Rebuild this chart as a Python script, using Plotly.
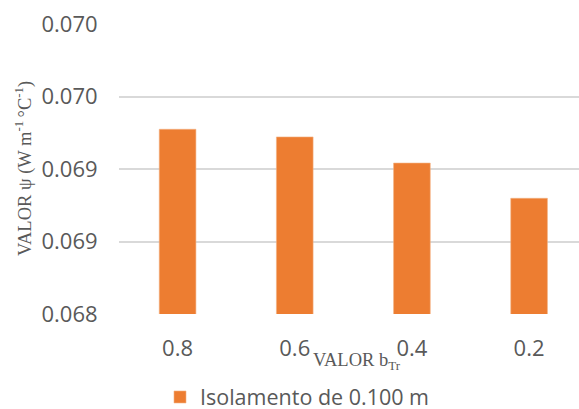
import plotly.graph_objects as go

# b_Tr categories and psi values (W m-1 °C-1) for 0.100 m insulation
categories = ["0.8", "0.6", "0.4", "0.2"]
psi_values = [0.069274, 0.069221, 0.069041, 0.068798]
series_name = "Isolamento de 0.100 m"

# y-axis ticks, labelled to three decimals (half-up rounding)
tick_values = [0.068, 0.0685, 0.069, 0.0695, 0.070]
tick_labels = ["0.068", "0.069", "0.069", "0.070", "0.070"]

ORANGE = "#ED7D31"
GRID = "#d9d9d9"
TEXT = "#595959"
SANS = "Open Sans, Noto Sans, sans-serif"
SERIF = "Liberation Serif, Times New Roman, serif"

# plot-area geometry in pixels
PL, PR, PT, PB = 119, 579, 24, 314
PW, PH = PR - PL, PB - PT

fig = go.Figure(
    go.Bar(
        x=categories,
        y=psi_values,
        name=series_name,
        marker=dict(color=ORANGE, line=dict(color="#f4b183", width=0.6)),
        showlegend=True,
    )
)

fig.update_layout(
    width=579,
    height=409,
    margin=dict(l=PL, r=579 - PR, t=PT, b=409 - PB, autoexpand=False),
    paper_bgcolor="white",
    plot_bgcolor="white",
    bargap=0.687,
    font=dict(family=SANS, size=22, color=TEXT),
    showlegend=True,
    legend=dict(
        orientation="h",
        x=(160 - PL) / PW,
        xanchor="left",
        y=-(397 - PB) / PH,
        yanchor="middle",
        font=dict(family=SANS, size=21.5, color=TEXT),
        itemwidth=30,
    ),
    xaxis=dict(
        type="category",
        range=[-0.5, 3.426],
        showgrid=False,
        showline=False,
        ticks="outside",
        ticklen=15,
        tickcolor="rgba(0,0,0,0)",
        tickfont=dict(family=SANS, size=22, color=TEXT),
    ),
    yaxis=dict(
        range=[0.068, 0.070],
        tickvals=tick_values,
        ticktext=tick_labels,
        showgrid=True,
        gridcolor=GRID,
        gridwidth=1.5,
        zeroline=False,
        showline=False,
        ticks="outside",
        ticklen=16,
        tickcolor="rgba(0,0,0,0)",
        tickfont=dict(family=SANS, size=22, color=TEXT),
    ),
    annotations=[
        dict(
            text="VALOR b<sub>Tr</sub>",
            xref="paper", yref="paper",
            x=(357 - PL) / PW, y=-(362 - PB) / PH,
            xanchor="center", yanchor="middle",
            showarrow=False,
            font=dict(family=SERIF, size=18.5, color=TEXT),
        ),
        dict(
            text="VALOR ψ (W m<sup>-1 </sup>°C<sup>-1</sup>)",
            xref="paper", yref="paper",
            x=-(PL - 23) / PW, y=0.5,
            xanchor="center", yanchor="middle",
            textangle=-90,
            showarrow=False,
            font=dict(family=SERIF, size=18.5, color=TEXT),
        ),
    ],
)

fig.write_html("out.html")
